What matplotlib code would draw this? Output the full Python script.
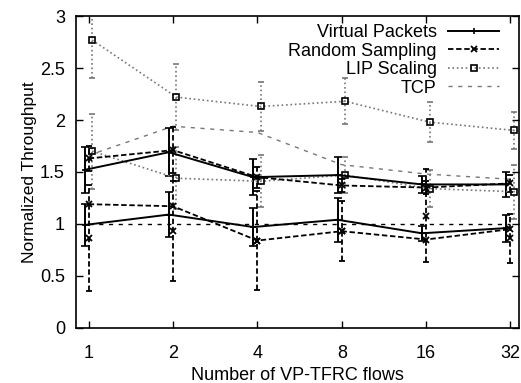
import numpy as np
import matplotlib
matplotlib.use("Agg")
import matplotlib.pyplot as plt
from matplotlib.lines import Line2D

plt.rcParams['font.family'] = ['Liberation Sans', 'DejaVu Sans']

flows = ["1", "2", "4", "8", "16", "32"]

# Virtual Packets: two runs (upper / lower) with std errors
vp_hi = [1.52, 1.69, 1.45, 1.47, 1.38, 1.38]
vp_hi_err = [0.22, 0.23, 0.17, 0.17, 0.08, 0.12]
vp_lo = [0.99, 1.09, 0.97, 1.04, 0.91, 0.96]
vp_lo_err = [0.20, 0.22, 0.18, 0.21, 0.07, 0.13]

# Random Sampling
rs_hi = [1.63, 1.71, 1.45, 1.37, 1.35, 1.39]
rs_hi_err = [0.12, 0.22, 0.10, 0.06, 0.06, 0.08]
rs_lo = [1.19, 1.17, 0.84, 0.93, 0.85, 0.95]
rs_pts = [0.86, 0.93, 0.84, 0.93, 1.08, 0.86]
rs_pts_err = [0.51, 0.48, 0.48, 0.29, 0.45, 0.24]

# LIP Scaling
lip_hi = [2.77, 2.22, 2.13, 2.18, 1.98, 1.90]
lip_hi_err = [0.37, 0.32, 0.24, 0.22, 0.19, 0.18]
lip_lo = [1.70, 1.44, 1.41, 1.47, 1.34, 1.31]
lip_lo_err = [0.36, 0.30, 0.25, 0.17, 0.18, 0.26]

# TCP reference
tcp_hi = [1.66, 1.94, 1.88, 1.57, 1.48, 1.43]
tcp_lo = [1.0, 1.0, 1.0, 1.0, 1.0, 1.0]

x = np.arange(len(flows))

fig = plt.figure(figsize=(5.21, 3.83), dpi=100)
ax = fig.add_axes([0.146, 0.144, 0.850, 0.814])

gray = "#777777"

# TCP lines
ax.plot(x, tcp_hi, color=gray, lw=1.0, ls=(0, (3, 4)))
ax.plot(x, tcp_lo, color="black", lw=1.0, ls=(0, (3, 4)))

# LIP Scaling
for vals, errs in [(lip_hi, lip_hi_err), (lip_lo, lip_lo_err)]:
    eb = ax.errorbar(x + 0.04, vals, yerr=errs, color=gray, lw=1.2, ls=':',
                     marker='s', ms=5, mfc='none', mec='black', mew=1.2,
                     capsize=2.5, elinewidth=1.2)
    eb[2][0].set_linestyle(':')

# Random Sampling
for vals, errs in [(rs_hi, rs_hi_err)]:
    eb = ax.errorbar(x, vals, yerr=errs, color="black", lw=1.3, ls=(0, (3, 1.5)),
                     marker='x', ms=4, mew=1.3, capsize=2, elinewidth=1.3)
    eb[2][0].set_linestyle((0, (3, 1.5)))
ax.plot(x, rs_lo, color="black", lw=1.3, ls=(0, (3, 1.5)), marker='x', ms=4, mew=1.3)
eb = ax.errorbar(x, rs_pts, yerr=rs_pts_err, color="black", ls='none',
                 marker='x', ms=4, mew=1.3, capsize=2, elinewidth=1.3)
eb[2][0].set_linestyle((0, (3, 1.5)))

# Virtual Packets
for vals, errs in [(vp_hi, vp_hi_err), (vp_lo, vp_lo_err)]:
    ax.errorbar(x - 0.05, vals, yerr=errs, color="black", lw=1.4, ls='-',
                marker='+', ms=4, mew=1.2, capsize=3, elinewidth=1.4)

ax.set_xlim(-0.15, 5.1)
ax.set_ylim(0, 3)
ax.set_xticks(x)
ax.set_xticklabels(flows)
ax.set_yticks([0, 0.5, 1, 1.5, 2, 2.5, 3])
ax.set_yticklabels(["0", "0.5", "1", "1.5", "2", "2.5", "3"])
ax.tick_params(direction='in', top=True, right=True, length=5, width=1,
               labelsize=13)
ax.tick_params(axis='x', pad=12)
ax.tick_params(axis='y', pad=8)
for s in ax.spines.values():
    s.set_linewidth(1.2)

ax.set_xlabel("Number of VP-TFRC flows", fontsize=13, labelpad=4)
ax.set_ylabel("Normalized Throughput", fontsize=12.5, labelpad=2)

handles = [
    Line2D([], [], color="black", lw=1.4, marker='+', ms=4, mew=1.2),
    Line2D([], [], color="black", lw=1.3, ls=(0, (3, 1.5)), marker='x', ms=4, mew=1.3),
    Line2D([], [], color=gray, lw=1.2, ls=':', marker='s', ms=5, mfc='none', mec='black', mew=1.2),
    Line2D([], [], color=gray, lw=1.0, ls=(0, (3, 4))),
]
labels = ["Virtual Packets", "Random Sampling", "LIP Scaling", "TCP"]
ax.legend(handles, labels, loc='upper right', bbox_to_anchor=(0.955, 0.975),
          markerfirst=False, frameon=False, fontsize=13, handlelength=2.8,
          handletextpad=0.65, labelspacing=0.09, borderaxespad=0, borderpad=0)

fig.savefig("out.png", dpi=100)
